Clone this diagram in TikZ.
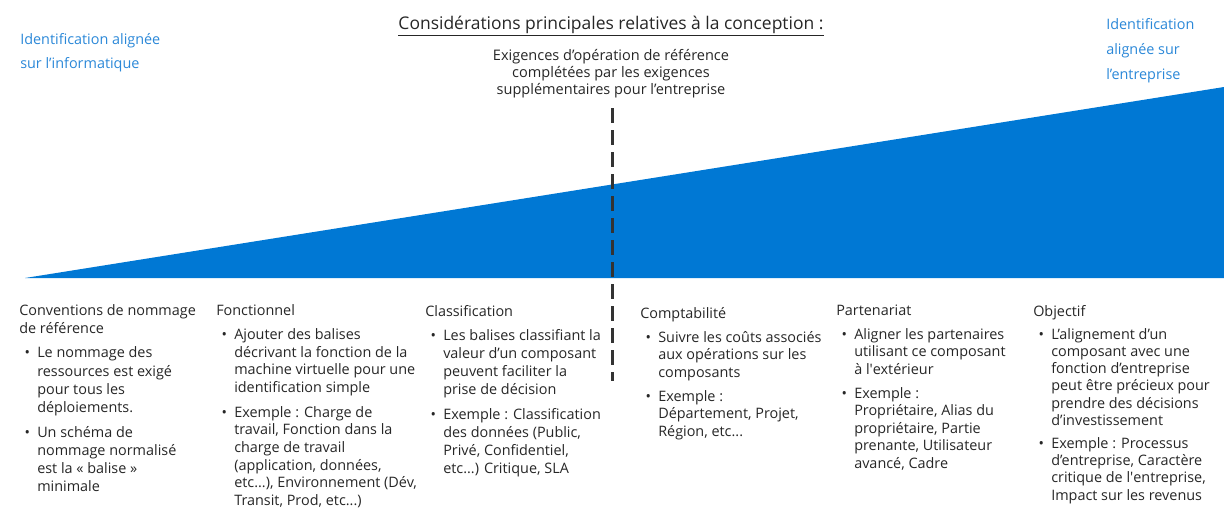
\documentclass[tikz,border=0pt]{standalone}
\usepackage{fontspec}
\setmainfont{Open Sans}
\usepackage{array}
\definecolor{azure}{HTML}{0078D4}
\definecolor{lblue}{HTML}{2B88D8}
\definecolor{ink}{HTML}{262626}
\definecolor{divcol}{HTML}{333333}
\newcommand{\hd}[1]{\multicolumn{2}{@{}l@{}}{#1}}
\newcommand{\bl}{\makebox[13.5pt][l]{\hspace*{4pt}\textbullet}}
\newcommand{\pg}{\\[5pt]}
\tikzset{
  colbox/.style={anchor=base west, inner sep=0pt, text=ink, font=\fontsize{10.8}{#1}\selectfont},
  colbox/.default=13.3pt,
  bluelbl/.style={anchor=base west, inner sep=0pt, text=lblue, font=\fontsize{10.8}{#1}\selectfont},
}
\begin{document}
\begin{tikzpicture}[x=0.75pt,y=-0.75pt]
\useasboundingbox (0,0) rectangle (1224,508);
% wedge
\fill[azure] (25,278) -- (1224,87) -- (1224,278) -- cycle;
% divider
\coordinate (dtop) at (612,108);
\coordinate (dbot) at (612,381);
\draw[divcol, line width=2.25pt, dash pattern=on 11pt off 5.5pt] (dtop) -- (dbot);
% top labels
\node[bluelbl=18pt] (itlbl) at (20,44) {\begin{tabular}[t]{@{}l@{}}Identification alignée\\sur l’informatique\end{tabular}};
\node[bluelbl=19pt] (bizlbl) at (1106,29) {\begin{tabular}[t]{@{}l@{}}Identification\\alignée sur\\l’entreprise\end{tabular}};
\node[anchor=base, inner sep=0pt, text=ink, font=\fontsize{13.1}{15}\selectfont] (title) at (611,29) {\underline{Considérations principales relatives à la conception :}};
\node[anchor=base, inner sep=0pt, text=ink, font=\fontsize{10.9}{12.75}\selectfont] (sub) at (611,60) {\begin{tabular}[t]{@{}c@{}}Exigences d’opération de référence\\complétées par les exigences\\supplémentaires pour l’entreprise\end{tabular}};
% columns
\node[colbox=13.6pt] (c1) at (19,315) {\begin{tabular}[t]{@{}l@{}l@{}}
\hd{Conventions de nommage}\\
\hd{de référence}\pg
\bl & Le nommage des\\
 & ressources est exigé\\
 & pour tous les\\
 & déploiements.\pg
\bl & Un schéma de\\
 & nommage normalisé\\
 & est la «~balise~»\\
 & minimale
\end{tabular}};
\node[colbox] (c2) at (216,315) {\begin{tabular}[t]{@{}l@{}l@{}}
\hd{Fonctionnel}\pg
\bl & Ajouter des balises\\
 & décrivant la fonction de la\\
 & machine virtuelle pour une\\
 & identification simple\pg
\bl & Exemple : Charge de\\
 & travail, Fonction dans la\\
 & charge de travail\\
 & (application, données,\\
 & etc...), Environnement (Dév,\\
 & Transit, Prod, etc...)
\end{tabular}};
\node[colbox=13.5pt] (c3) at (425,316) {\begin{tabular}[t]{@{}l@{}l@{}}
\hd{Classification}\pg
\bl & Les balises classifiant la\\
 & valeur d’un composant\\
 & peuvent faciliter la\\
 & prise de décision\pg
\bl & Exemple : Classification\\
 & des données (Public,\\
 & Privé, Confidentiel,\\
 & etc...) Critique, SLA
\end{tabular}};
\node[colbox=13.1pt] (c4) at (640,318) {\begin{tabular}[t]{@{}l@{}l@{}}
\hd{Comptabilité}\pg
\bl & Suivre les coûts associés\\
 & aux opérations sur les\\
 & composants\pg
\bl & Exemple :\\
 & Département, Projet,\\
 & Région, etc...
\end{tabular}};
\node[colbox=13.1pt] (c5) at (836,315) {\begin{tabular}[t]{@{}l@{}l@{}}
\hd{Partenariat}\pg
\bl & Aligner les partenaires\\
 & utilisant ce composant\\
 & à l\textquotesingle extérieur\pg
\bl & Exemple :\\
 & Propriétaire, Alias du\\
 & propriétaire, Partie\\
 & prenante, Utilisateur\\
 & avancé, Cadre
\end{tabular}};
\node[colbox=12.8pt] (c6) at (1033,316) {\begin{tabular}[t]{@{}l@{}l@{}}
\hd{Objectif}\pg
\bl & L’alignement d’un\\
 & composant avec une\\
 & fonction d’entreprise\\
 & peut être précieux pour\\
 & prendre des décisions\\
 & d’investissement\pg
\bl & Exemple : Processus\\
 & d’entreprise, Caractère\\
 & critique de l\textquotesingle entreprise,\\
 & Impact sur les revenus
\end{tabular}};
\end{tikzpicture}
\end{document}
